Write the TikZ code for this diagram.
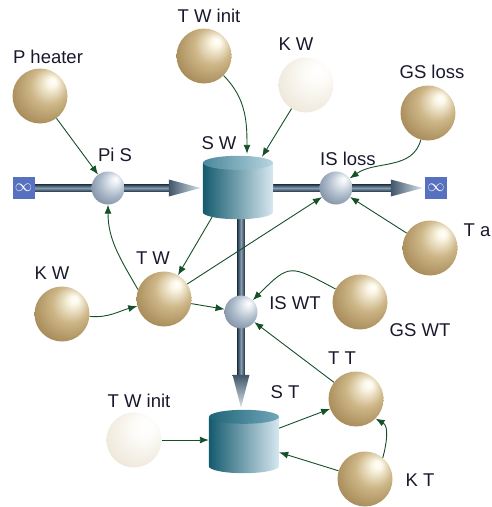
\documentclass[tikz,border=0pt]{standalone}
\usepackage{fontspec}
\setmainfont{Liberation Sans}
\usetikzlibrary{arrows.meta,calc}

\definecolor{gHi}{RGB}{252,248,232}
\definecolor{gM}{RGB}{205,182,135}
\definecolor{gD}{RGB}{165,136,86}
\definecolor{gE}{RGB}{118,92,48}
\definecolor{cHi}{RGB}{253,252,248}
\definecolor{cM}{RGB}{240,234,222}
\definecolor{cD}{RGB}{222,210,186}
\definecolor{cE}{RGB}{165,140,100}
\definecolor{sHi}{RGB}{238,242,246}
\definecolor{sM}{RGB}{172,186,202}
\definecolor{sD}{RGB}{112,130,150}
\definecolor{sE}{RGB}{78,96,116}
\definecolor{labc}{RGB}{25,25,45}
\definecolor{connc}{RGB}{20,80,40}
\definecolor{pipeD}{RGB}{40,60,80}
\definecolor{pipeL}{RGB}{135,155,175}
\definecolor{coneD}{RGB}{65,85,105}
\definecolor{coneL}{RGB}{215,228,236}
\definecolor{cylD}{RGB}{20,90,110}
\definecolor{cylM}{RGB}{95,155,175}
\definecolor{cylL}{RGB}{215,232,240}
\definecolor{infb}{RGB}{88,112,192}

\pgfdeclarelayer{bg}
\pgfsetlayers{bg,main}

\pgfdeclareradialshading{goldsph}{\pgfpoint{12bp}{14bp}}{color(0bp)=(white); color(4bp)=(gHi); color(17bp)=(gM); color(33bp)=(gD); color(50bp)=(gE)}
\pgfdeclareradialshading{creamsph}{\pgfpoint{12bp}{14bp}}{color(0bp)=(white); color(10bp)=(cHi); color(30bp)=(cM); color(45bp)=(cD); color(50bp)=(cE)}
\pgfdeclareradialshading{steelsph}{\pgfpoint{12bp}{14bp}}{color(0bp)=(white); color(5bp)=(sHi); color(20bp)=(sM); color(38bp)=(sD); color(50bp)=(sE)}

\newcommand\drawtank[3]{%
  \shade[left color=cylD, middle color=cylM, right color=cylL]
    ($(#1.north west)+(0,-7)$) -- ($(#1.south west)+(0,7)$)
    arc[start angle=180, end angle=360, x radius=35, y radius=7]
    -- ($(#1.north east)+(0,-7)$) -- cycle;
  \shade[left color=#2, right color=#3] ($(#1.north)+(0,-7)$) ellipse[x radius=35, y radius=7];
}

\tikzset{
  every node/.style={inner sep=0pt},
  gold/.style={circle, minimum size=55pt, shading=goldsph},
  cream/.style={circle, minimum size=55pt, shading=creamsph},
  steel/.style={circle, minimum size=33pt, shading=steelsph},
  lab/.style={text=labc, font=\fontsize{18.5}{20}\selectfont},
  tank/.style={rectangle, minimum width=70pt, minimum height=63pt},
  infbox/.style={rectangle, fill=infb, minimum size=22pt, text=white, font=\fontsize{17}{17}\selectfont},
  conn/.style={draw=connc, line width=0.9pt, -{Latex[length=9pt,width=7pt]}},
  pipeh/.style={top color=pipeD, bottom color=pipeD, middle color=pipeL},
  pipev/.style={left color=pipeD, right color=pipeD, middle color=pipeL},
}

\begin{document}
\begin{tikzpicture}[x=1pt,y=1pt]
\useasboundingbox (0,0) rectangle (491,-507);

% spheres
\node[gold]  (Pheat)   at (40,-96)  {};
\node[gold]  (TWinit1) at (204,-56) {};
\node[cream] (KW1)     at (306,-85) {};
\node[gold]  (GSloss)  at (428,-113) {};
\node[gold]  (Ta)      at (430,-248) {};
\node[gold]  (KW2)     at (62,-314) {};
\node[gold]  (TW)      at (164,-299) {};
\node[gold]  (GSWT)    at (360,-302) {};
\node[gold]  (TT)      at (356,-399) {};
\node[cream] (TWinit2) at (134,-440) {};
\node[gold]  (KT)      at (365,-479) {};

% tanks
\node[tank] (SW) at (238,-187.5) {};
\node[tank] (ST) at (244,-441.5) {};

% infinity boxes
\node[infbox] (boxL) at (23.5,-188) {$\infty$};
\node[infbox] (boxR) at (436,-188) {$\infty$};

% pipes
\begin{pgfonlayer}{bg}
  \shade[pipeh] ($(boxL.east)+(0,3.5)$) rectangle ($(SW.west |- boxL)+(-32,-3.5)$);
  \shade[left color=coneD, right color=coneL]
    ($(SW.west |- boxL)+(-34,8.5)$) -- ($(SW.west |- boxL)+(-2,0)$) -- ($(SW.west |- boxL)+(-34,-8.5)$) -- cycle;
  \shade[pipeh] ($(SW.east |- boxR)+(-2,3.5)$) rectangle ($(boxR.west)+(-32,-3.5)$);
  \shade[left color=coneD, right color=coneL]
    ($(boxR.west)+(-34,8.5)$) -- ($(boxR.west)+(-2,0)$) -- ($(boxR.west)+(-34,-8.5)$) -- cycle;
  \shade[pipev] ($(SW.south)+(-0.5,8)$) rectangle ($(SW.south |- ST.north)+(6.5,34)$);
  \shade[top color=coneD, bottom color=coneL]
    ($(SW.south |- ST.north)+(-5.5,35)$) -- ($(SW.south |- ST.north)+(3,2)$) -- ($(SW.south |- ST.north)+(11.5,35)$) -- cycle;
\end{pgfonlayer}

\drawtank{SW}{cylM!70!cylD}{cylL!75!cylM}
\drawtank{ST}{cylD!85!cylM}{cylM!85!cylL}

% small spheres
\node[steel] (PiS)    at (108,-188) {};
\node[steel] (ISloss) at (336,-188) {};
\node[steel] (ISWT)   at (241,-312) {};

% labels
\node[lab] (lPheat)   at (48,-57)  {P heater};
\node[lab] (lTWinit1) at (209,-16) {T W init};
\node[lab] (lKW1)     at (296,-44) {K W};
\node[lab] (lGSloss)  at (432,-72) {GS loss};
\node[lab] (lPiS)     at (115,-155) {Pi S};
\node[lab] (lSW)      at (219,-143) {S W};
\node[lab] (lISloss)  at (348,-159) {IS loss};
\node[lab] (lTa)      at (477,-230) {T a};
\node[lab] (lKW2)     at (52,-273) {K W};
\node[lab] (lTW)      at (153,-258) {T W};
\node[lab] (lISWT)    at (295,-303) {IS WT};
\node[lab] (lGSWT)    at (420,-330) {GS WT};
\node[lab] (lTT)      at (342,-358) {T T};
\node[lab] (lST)      at (285,-392) {S T};
\node[lab] (lTWinit2) at (139,-401) {T W init};
\node[lab] (lKT)      at (420,-480) {K T};

% connectors
\draw[conn] (Pheat) -- (PiS);
\draw[conn] (TWinit1) to[out=-45,in=90] ($(SW.north)+(9,2)$);
\draw[conn] (KW1) -- ($(SW.north)+(24,-1)$);
\draw[conn] (GSloss) to[out=-105,in=35] (ISloss);
\draw[conn] (Ta) -- (ISloss);
\draw[conn] (TW) -- (ISloss);
\draw[conn] ($(SW.south)+(-26,2)$) -- (TW);
\draw[conn] (TW.160) to[out=120,in=-90] (PiS);
\draw[conn] (KW2) to[out=-5,in=195] (TW);
\draw[conn] (TW) -- (ISWT);
\draw[conn] (GSWT) to[out=152,in=45,looseness=1.6] (ISWT);
\draw[conn] (TT) -- (ISWT);
\draw[conn] (TWinit2) -- (TWinit2 -| ST.west);
\draw[conn] (ST) -- (TT);
\draw[conn] (KT) -- (ST);
\draw[conn] (KT.50) to[out=75,in=-30] (TT.-45);
\end{tikzpicture}
\end{document}
